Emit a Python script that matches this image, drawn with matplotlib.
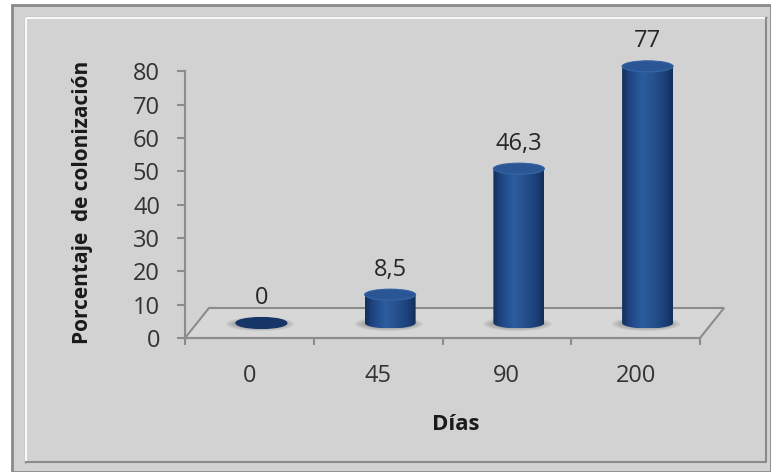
import numpy as np
import matplotlib
import matplotlib.pyplot as plt
from matplotlib.patches import Polygon, Rectangle, Ellipse
from matplotlib.colors import LinearSegmentedColormap

matplotlib.use("Agg")

# datos
dias = ["0", "45", "90", "200"]
colonizacion = [0, 8.5, 46.3, 77]
etiquetas = ["0", "8,5", "46,3", "77"]

W, H = 771, 472
plt.rcParams["font.family"] = ["Open Sans", "DejaVu Sans"]

fig = plt.figure(figsize=(W / 100, H / 100), dpi=100)
fig.patch.set_facecolor("white")

# ---- marco y fondo degradado (coordenadas en pixeles) ----
bg = fig.add_axes([0, 0, 1, 1], zorder=0)
bg.axis("off")
bg.add_patch(Rectangle((12, 5), W - 12, H - 5, facecolor="#d2d2d2",
                       edgecolor="#8a8a8a", lw=2))
x0, y0, x1, y1 = 26, 18, 766, 462
U, V = np.meshgrid(np.linspace(0, 1, 200), np.linspace(0, 1, 120))
L = 0.77 + 0.17 * (0.55 * U + 0.45 * (1 - V))
bg.imshow(L, cmap="gray", vmin=0, vmax=1, extent=(x0, x1, y1, y0),
          aspect="auto", interpolation="bilinear")
bg.plot([x0 - 1, x0 - 1, x1 + 1], [y1 + 1, y0 - 1, y0 - 1], color="#a8a8a8", lw=1)
bg.plot([x0, x0, x1], [y1, y0, y0], color="#f8f8f8", lw=1.5)
bg.plot([x1, x1, x0], [y0, y1, y1], color="#8a8a8a", lw=1.5)
bg.set_xlim(0, W)
bg.set_ylim(H, 0)

# ---- ejes principales ----
left, right, bottom, top = 185, 700, 338, 38
ax = fig.add_axes([left / W, 1 - bottom / H, (right - left) / W, (bottom - top) / H],
                  zorder=1)
ax.patch.set_alpha(0)
ax.set_xlim(-0.5, 3.5)
ax.set_ylim(0, 90)

px_x = (right - left) / 4.0
px_y = (bottom - top) / 90.0

gris = "#8c8c8c"
for s in ["top", "right"]:
    ax.spines[s].set_visible(False)
ax.spines["left"].set_bounds(0, 80)
ax.spines["left"].set_color(gris)
ax.spines["left"].set_linewidth(1.5)
ax.spines["bottom"].set_color(gris)
ax.spines["bottom"].set_linewidth(1.5)

ax.set_yticks(range(0, 81, 10))
ax.tick_params(axis="y", direction="out", length=6, width=1.5, color=gris,
               pad=12, labelsize=17, labelcolor="#333333")
ax.set_xticks(np.arange(-0.5, 4, 1.0))
ax.set_xticklabels([])
ax.tick_params(axis="x", which="major", direction="out", length=5, width=1.5, color=gris)
ax.set_xticks(range(len(dias)), minor=True)
ax.set_xticklabels(dias, minor=True)
ax.tick_params(axis="x", which="minor", length=0, pad=19, labelsize=17,
               labelcolor="#333333")

# piso en perspectiva
dx = 24 / px_x
dy = 30 / px_y
piso = Polygon([(-0.5, 0), (-0.5 + dx, dy), (3.5 + dx, dy), (3.5, 0)], closed=True,
               facecolor=(1, 1, 1, 0.12), edgecolor=gris, lw=1.5, zorder=1,
               clip_on=False)
ax.add_patch(piso)

# cilindros
cmap = LinearSegmentedColormap.from_list("cil", [
    (0.0, "#13305c"), (0.15, "#1f4683"), (0.4, "#2c5c9e"),
    (0.6, "#27538f"), (0.85, "#1c4079"), (1.0, "#132f5a")])
rx = 25.5 / px_x
ry = 5.5 / px_y
base = dy / 2
grad = np.linspace(0, 1, 64).reshape(1, -1)

for i, (val, lbl) in enumerate(zip(colonizacion, etiquetas)):
    cx = i + dx / 2
    tope = base + val

    # sombra difusa
    for k in range(5):
        f = 1.0 + 0.07 * k
        ax.add_patch(Ellipse((cx - 0.01, base - 0.3), 2 * rx * f + 0.03, 2 * ry * (0.9 + 0.1 * k),
                             facecolor="#2a2a2a", alpha=0.05, lw=0, zorder=2,
                             clip_on=False))

    t1 = np.linspace(np.pi, 2 * np.pi, 60)
    t2 = np.linspace(0, np.pi, 60)
    pts = np.vstack([
        np.column_stack([cx + rx * np.cos(t1), base + ry * np.sin(t1)]),
        np.column_stack([cx + rx * np.cos(t2), tope + ry * np.sin(t2)]),
    ])
    cuerpo = Polygon(pts, closed=True, facecolor="none", edgecolor="none", zorder=3)
    ax.add_patch(cuerpo)
    im = ax.imshow(grad, cmap=cmap, vmin=0, vmax=1, aspect="auto", zorder=3,
                   extent=(cx - rx, cx + rx, base - ry, tope + ry),
                   interpolation="bilinear")
    im.set_clip_path(cuerpo)

    tapa = "#2a5696" if val > 0 else "#163668"
    ax.add_patch(Ellipse((cx, tope), 2 * rx, 2 * ry, facecolor=tapa,
                         edgecolor="#3766a6" if val > 0 else "#163668", lw=0.8, zorder=4,
                         clip_on=False))

    ax.annotate(lbl, (cx, tope), xytext=(0, 18), textcoords="offset points",
                ha="center", va="center", fontsize=17, color="#262626")

ax.set_xlim(-0.5, 3.5)
ax.set_ylim(0, 90)

ax.set_ylabel("Porcentaje  de colonización", fontsize=15, fontweight="bold",
              color="#1a1a1a", va="center")
ax.yaxis.set_label_coords((83 - left) / (right - left), (bottom - 202) / (bottom - top))
ax.set_xlabel("Días", fontsize=16, fontweight="bold", color="#1a1a1a", va="center")
ax.xaxis.set_label_coords((456 - left) / (right - left), (bottom - 425) / (bottom - top))

fig.savefig("out.png", dpi=100)
plt.close(fig)
